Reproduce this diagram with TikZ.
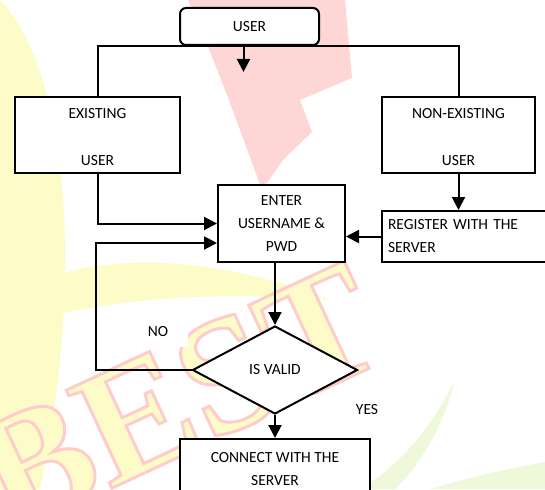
\documentclass[tikz,border=0pt]{standalone}
\usepackage{fontspec}
\setmainfont{Carlito}
\newfontfamily\wmfont{Liberation Serif}
\usetikzlibrary{arrows.meta,shapes.geometric,calc}
\definecolor{wmred}{RGB}{255,214,214}
\definecolor{wmyellow}{RGB}{253,251,200}
\definecolor{wmgreen}{RGB}{238,249,218}
% outlined letters: fill in the current colour, stroke in pale red
\newcommand\outlinedtext[1]{\special{pdf:literal direct 2 Tr 3 w 1 0.8 0.8 RG}#1\special{pdf:literal direct 0 Tr}}
\begin{document}
\begin{tikzpicture}[x=1pt,y=-1pt,
  lbl/.style={font=\fontsize{15.5}{23}\selectfont, text=black},
  box/.style={lbl, draw, line width=2pt, fill=white, inner sep=0pt, align=center},
  link/.style={line width=2pt, line join=miter},
  arr/.style={link, -{Triangle[length=13pt,width=13pt]}},
  tag/.style={lbl, fill=white, inner sep=0pt}]
\useasboundingbox (0,0) rectangle (545,489);
\clip (0,0) rectangle (545,489);

% faint logo in the background
\fill[wmyellow] (0,0) .. controls (60,60) and (90,250) .. (40,489) -- (0,489) -- cycle;
\fill[wmyellow] (0,300) .. controls (80,250) and (200,250) .. (330,300) .. controls (200,290) and (90,300) .. (0,330) -- cycle;
\fill[wmred] (188,0) -- (345,0) -- (352,78) -- (300,100) -- (312,132) -- (283,160) -- (262,190)
  .. controls (240,130) and (215,60) .. cycle;
\fill[wmgreen] (455,380) .. controls (430,430) and (400,465) .. (360,489) -- (395,489) .. controls (425,460) and (445,420) .. cycle;
\fill[wmgreen] (545,462) .. controls (500,470) and (460,480) .. (430,489) -- (545,489) -- cycle;
\node[rotate=25, text=wmyellow, font=\fontsize{165}{165}\selectfont\wmfont\bfseries] (best) at (178,398) {\outlinedtext{BEST}};

% boxes
\node[box, rounded corners=6pt, minimum width=139pt, minimum height=37pt] (user) at (249.5,26.5) {USER};
\node[box, minimum width=165pt, minimum height=76pt] (exist) at (97.5,135) {};
\node[lbl] (existA) at (97.5,114) {EXISTING};
\node[lbl] (existB) at (97.5,161) {USER};
\node[box, minimum width=153pt, minimum height=76pt] (nonexist) at (458.5,135) {};
\node[lbl] (nonexistA) at (458.5,114) {NON-EXISTING};
\node[lbl] (nonexistB) at (458.5,161) {USER};
\node[box, minimum width=127pt, minimum height=77pt] (enter) at (281.5,223.5) {ENTER\\USERNAME \&\\PWD};
\node[box, minimum width=170pt, minimum height=51pt, align=left, text width=158pt] (register) at (467,236.5) {REGISTER WITH THE\\SERVER};
\node[box, diamond, minimum width=165pt, minimum height=88pt] (valid) at (275,370) {IS VALID};
\node[box, minimum width=190pt, minimum height=60pt] (connect) at (275,469) {CONNECT WITH THE\\SERVER};

% labels of the decision
\node[tag, minimum width=60pt, minimum height=30pt] (no) at (158,332) {NO};
\node[tag, minimum width=40pt, minimum height=28pt] (yes) at (367,410) {YES};

% connectors
\draw[arr] ($(user.south)+(-6,0)$) -- ++(0,26) coordinate (userend);
\draw[link] (exist.north) |- (nonexist.north |- user.south) -- (nonexist.north);
\draw[arr] (exist.south) |- (enter.west);
\draw[arr] (valid.west) -| (96,243) -- (enter.west |- 0,243);
\draw[arr] (nonexist.south) -- (nonexist.south |- register.north);
\draw[arr] (register.west) -- (register.west -| enter.east);
\draw[arr] (valid.north |- enter.south) -- (valid.north);
\draw[arr] (valid.south) -- (connect.north);
\end{tikzpicture}
\end{document}
